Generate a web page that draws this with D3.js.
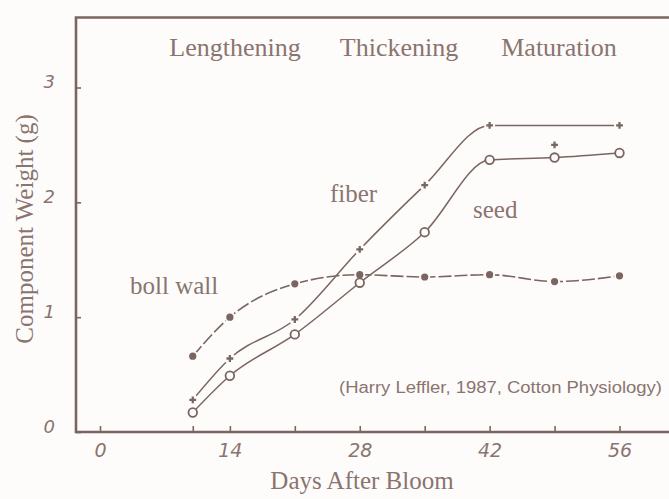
<!DOCTYPE html>
<html>
<head>
<meta charset="utf-8">
<script src="https://cdn.jsdelivr.net/npm/d3@7"></script>
<style>
  html, body { margin: 0; padding: 0; background: #fdfcfa; }
  svg { display: block; }
</style>
</head>
<body>
<svg id="chart" width="669" height="499"></svg>
<script>
// values
const days = [10, 14, 21, 28, 35, 42, 49, 56];
const bollWall = [0.66, 1.0, 1.29, 1.37, 1.35, 1.37, 1.31, 1.36];
const fiber = [0.28, 0.64, 0.98, 1.59, 2.15, 2.67, 2.50, 2.67];
const seed = [0.17, 0.49, 0.85, 1.30, 1.74, 2.37, 2.39, 2.43];
const fiberSkip = [49]; // lone marker, line goes 42 -> 56

const xTicks = [0, 10, 14, 21, 28, 35, 42, 49, 56];
const xTickLabels = [0, 14, 28, 42, 56];
const yTicks = [0, 1, 2, 3];
const stages = ["Lengthening", "Thickening", "Maturation"];

const ink = "#7a6560";
const textInk = "#8a7470";

const svg = d3.select("#chart");
const x = d3.scaleLinear().domain([0, 56]).range([100, 619.5]);
const y = d3.scaleLinear().domain([0, 3]).range([432, 87.5]);

// frame: top, left, bottom (open on the right)
svg.append("path")
  .attr("d", "M669,17.5 H76 V432 H669")
  .attr("fill", "none")
  .attr("stroke", ink)
  .attr("stroke-width", 2.6);

// x axis ticks + labels
const xAxis = svg.append("g")
  .attr("transform", "translate(0,432)")
  .call(d3.axisBottom(x).tickValues(xTicks).tickSize(-6)
    .tickFormat(d => xTickLabels.includes(d) ? d : ""));
xAxis.select(".domain").remove();
xAxis.selectAll(".tick line").attr("stroke", ink).attr("stroke-width", 1.6);
xAxis.selectAll(".tick text")
  .attr("y", 25).attr("dy", 0)
  .attr("fill", textInk)
  .style("font", "italic 19px 'DejaVu Sans', sans-serif");

// y axis ticks + labels
const yAxis = svg.append("g")
  .attr("transform", "translate(76,0)")
  .call(d3.axisLeft(y).tickValues(yTicks).tickFormat(d3.format("d"))
    .tickSizeInner(-5).tickSizeOuter(0).tickPadding(21));
yAxis.select(".domain").remove();
yAxis.selectAll(".tick line").attr("stroke", ink).attr("stroke-width", 1.6);
yAxis.selectAll(".tick text")
  .attr("dy", 0)
  .attr("fill", textInk)
  .style("font", "italic 18px 'DejaVu Sans', sans-serif");

// axis titles
svg.append("text")
  .attr("x", 362).attr("y", 489)
  .attr("text-anchor", "middle")
  .attr("fill", textInk)
  .style("font", "25px 'Liberation Serif', serif")
  .text("Days After Bloom");

svg.append("text")
  .attr("transform", "translate(33,229) rotate(-90)")
  .attr("text-anchor", "middle")
  .attr("fill", textInk)
  .style("font", "25px 'Liberation Serif', serif")
  .text("Component Weight (g)");

// stage headings
const stageX = [235, 399, 559];
svg.selectAll(".stage").data(stages).enter().append("text")
  .attr("class", "stage")
  .attr("x", (d, i) => stageX[i]).attr("y", 56)
  .attr("text-anchor", "middle")
  .attr("fill", textInk)
  .style("font", "26px 'Liberation Serif', serif")
  .text(d => d);

// series labels
const seriesLabels = [
  { text: "fiber", x: 330, y: 202 },
  { text: "seed", x: 473, y: 218 },
  { text: "boll wall", x: 130, y: 294 }
];
svg.selectAll(".slabel").data(seriesLabels).enter().append("text")
  .attr("x", d => d.x).attr("y", d => d.y)
  .attr("fill", textInk)
  .style("font", "25px 'Liberation Serif', serif")
  .text(d => d.text);

svg.append("text")
  .attr("x", 339).attr("y", 393)
  .attr("fill", textInk)
  .attr("textLength", 323).attr("lengthAdjust", "spacingAndGlyphs")
  .style("font", "16px 'Liberation Sans', Arial, sans-serif")
  .text("(Harry Leffler, 1987, Cotton Physiology)");

// lines
const pts = vals => days.map((d, i) => ({ day: d, v: vals[i] }));
const line = d3.line().x(d => x(d.day)).y(d => y(d.v)).curve(d3.curveMonotoneX);

const bw = pts(bollWall), fb = pts(fiber), sd = pts(seed);

svg.append("path").attr("d", line(bw))
  .attr("fill", "none").attr("stroke", ink).attr("stroke-width", 1.6)
  .attr("stroke-dasharray", "13,3");
svg.append("path").attr("d", line(fb.filter(d => !fiberSkip.includes(d.day))))
  .attr("fill", "none").attr("stroke", ink).attr("stroke-width", 1.5);
svg.append("path").attr("d", line(sd))
  .attr("fill", "none").attr("stroke", ink).attr("stroke-width", 1.5);

// small gaps in the lines around the solid markers
svg.selectAll(".halo").data(bw.concat(fb)).enter().append("circle")
  .attr("cx", d => x(d.day)).attr("cy", d => y(d.v)).attr("r", 5.5)
  .attr("fill", "#fdfcfa");

// markers
svg.selectAll(".bw").data(bw).enter().append("circle")
  .attr("cx", d => x(d.day)).attr("cy", d => y(d.v)).attr("r", 3.6)
  .attr("fill", ink);
svg.selectAll(".fb").data(fb).enter().append("path")
  .attr("transform", d => `translate(${x(d.day)},${y(d.v)})`)
  .attr("d", d3.symbol(d3.symbolCross, 26))
  .attr("fill", ink);
svg.selectAll(".sd").data(sd).enter().append("circle")
  .attr("cx", d => x(d.day)).attr("cy", d => y(d.v)).attr("r", 4.3)
  .attr("fill", "#fdfcfa").attr("stroke", ink).attr("stroke-width", 1.8);
</script>
</body>
</html>
